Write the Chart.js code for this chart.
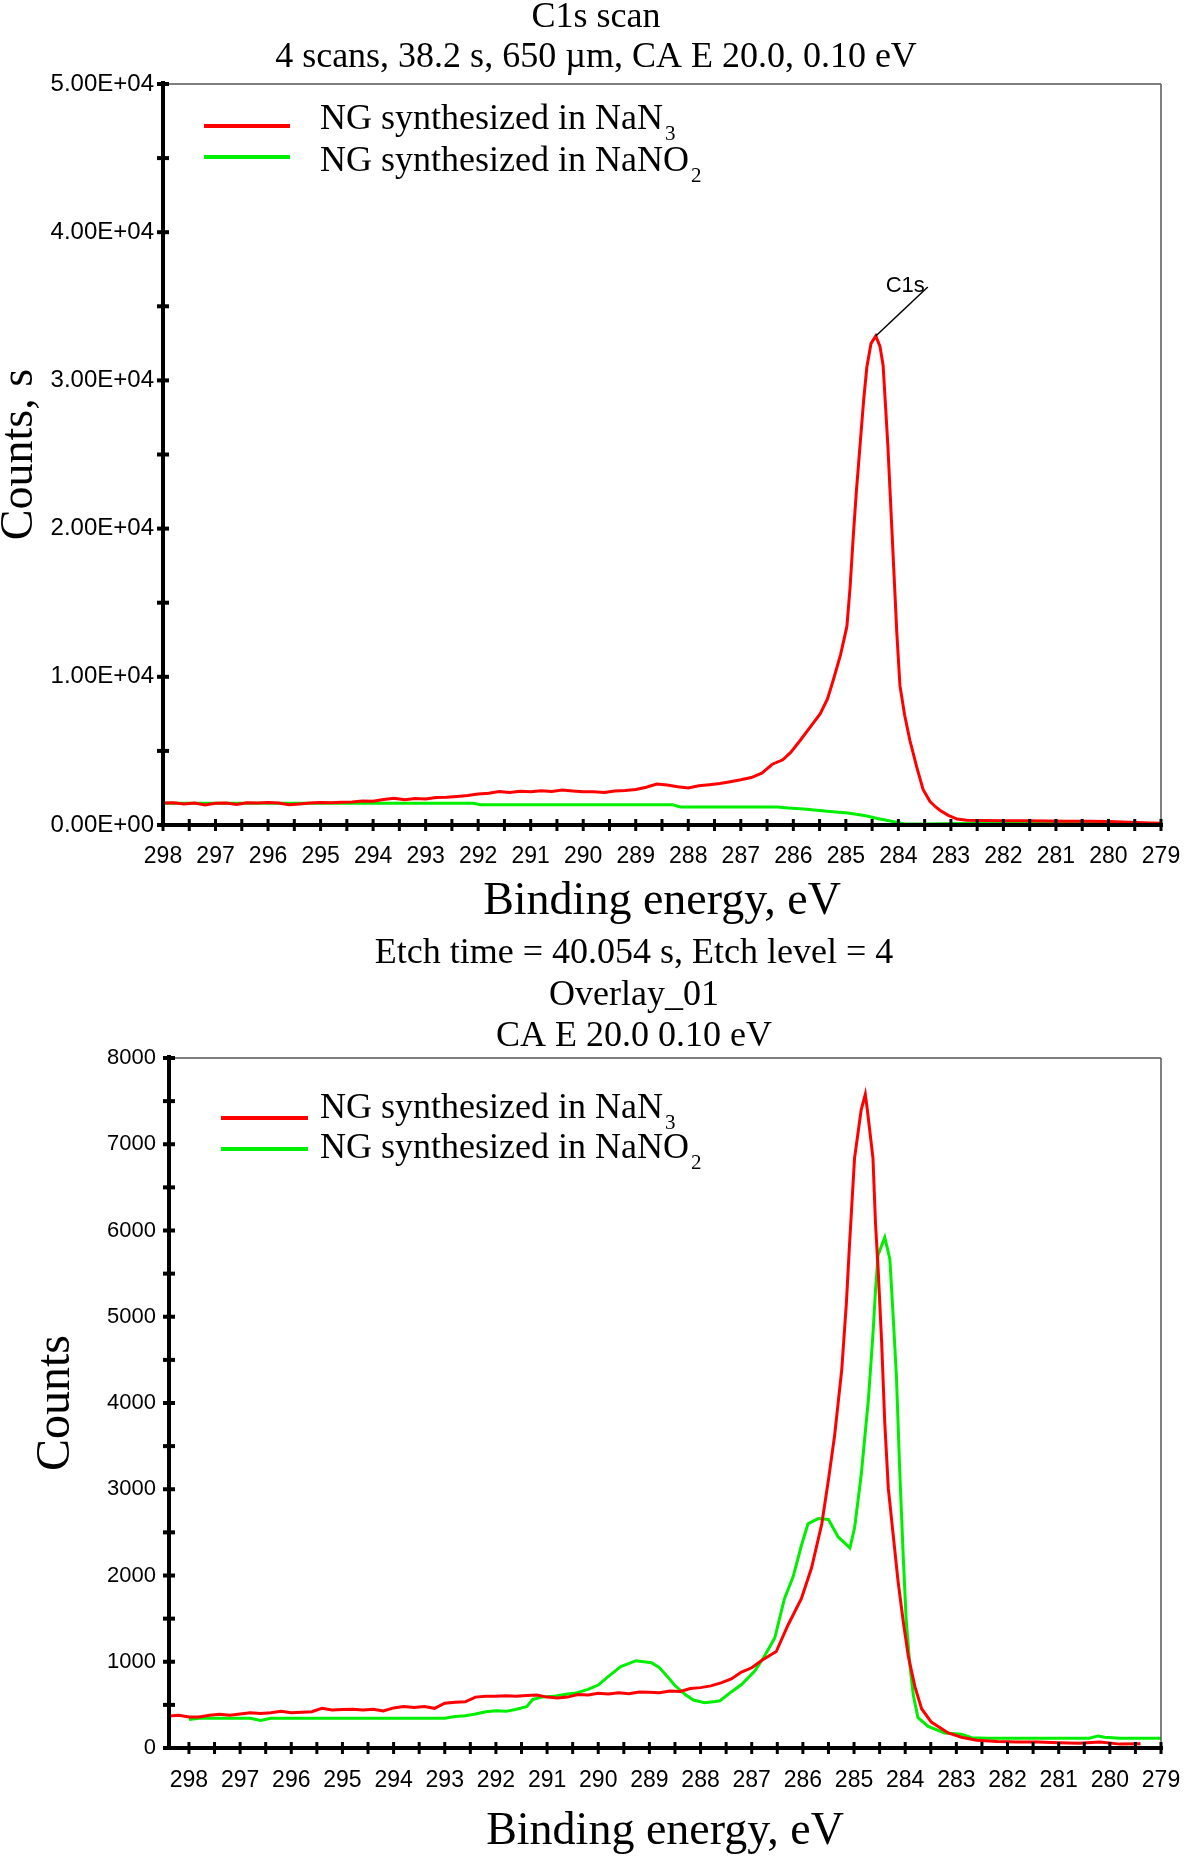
<!DOCTYPE html>
<html>
<head>
<meta charset="utf-8">
<script src="https://cdn.jsdelivr.net/npm/chart.js@4.4.0/dist/chart.umd.min.js"></script>
<style>
  body { margin: 0; background: #fff; width: 1203px; height: 1857px; overflow: hidden; position: relative; }
  canvas { position: absolute; left: 0; }
  #c1Canvas { top: 0; }
  #c2Canvas { top: 925px; }
</style>
</head>
<body>
<canvas id="c1Canvas" width="1203" height="925"></canvas>
<canvas id="c2Canvas" width="1203" height="932"></canvas>
<script>
// ---- series names (legend, with chemical subscript) ----
const seriesNames = ["NG synthesized in NaN", "NG synthesized in NaNO"];
const seriesSubs = ["3", "2"];

// ---- top panel: C1s scan ----
const topTitle = ["C1s scan", "4 scans, 38.2 s, 650 \u00b5m, CA E 20.0, 0.10 eV"];
const topEnergyNaN3 = [
  298.0, 297.8, 297.6, 297.4, 297.2, 297.0, 296.8, 296.6, 296.4, 296.2,
  296.0, 295.8, 295.6, 295.4, 295.2, 295.0, 294.8, 294.6, 294.4, 294.2,
  294.0, 293.8, 293.6, 293.4, 293.2, 293.0, 292.8, 292.6, 292.4, 292.2,
  292.0, 291.8, 291.6, 291.4, 291.2, 291.0, 290.8, 290.6, 290.4, 290.2,
  290.0, 289.8, 289.6, 289.4, 289.2, 289.0, 288.8, 288.6, 288.4, 288.2,
  288.0, 287.8, 287.6, 287.4, 287.2, 287.0, 286.8, 286.6, 286.4, 286.2,
  286.05, 285.87, 285.7, 285.49, 285.35, 285.25, 285.1, 284.98, 284.92, 284.86,
  284.8, 284.73, 284.66, 284.6, 284.52, 284.43, 284.35, 284.29, 284.2, 284.1,
  284.03, 283.97, 283.88, 283.78, 283.65, 283.53, 283.4, 283.3, 283.21, 283.05,
  282.88, 282.7, 282.4, 282.0, 281.6, 281.2, 280.8, 280.4, 280.0, 279.6,
  279.2, 279.0,
];
const topCountsNaN3 = [
  1480, 1500, 1420, 1480, 1350, 1470, 1490, 1380, 1500, 1480,
  1510, 1480, 1360, 1420, 1490, 1520, 1500, 1540, 1560, 1620,
  1600, 1720, 1800, 1700, 1780, 1750, 1850, 1880, 1930, 1990,
  2090, 2150, 2260, 2200, 2280, 2250, 2310, 2260, 2360, 2300,
  2250, 2240, 2200, 2300, 2330, 2400, 2550, 2760, 2700, 2580,
  2500, 2650, 2720, 2800, 2920, 3050, 3200, 3500, 4100, 4400,
  4900, 5700, 6500, 7500, 8500, 9650, 11500, 13400, 16000, 19400,
  22500, 25600, 28700, 30900, 32500, 33000, 32300, 31000, 25600, 18200,
  13000, 9400, 7400, 5700, 3900, 2400, 1600, 1250, 1000, 650,
  400, 320, 300, 290, 280, 270, 260, 250, 230, 190,
  140, 110,
];
const topEnergyNaNO2 = [
  298.0, 292.1, 291.95, 288.3, 288.15, 286.3, 286.1, 285.8, 285.5, 285.2,
  285.0, 284.8, 284.6, 284.4, 284.2, 284.0, 283.85, 283.5, 283.2, 282.8,
  279.0,
];
const topCountsNaNO2 = [
  1460, 1460, 1360, 1360, 1220, 1220, 1150, 1080, 980, 880,
  820, 720, 610, 440, 300, 160, 60, 60, 90, 100,
  100,
];
const topYMax = 50000;
const topYStep = 5000;

// ---- bottom panel: Overlay_01 ----
const bottomTitle = ["Etch time = 40.054 s, Etch level = 4", "Overlay_01", "CA E 20.0 0.10 eV"];
const bottomEnergyNaN3 = [
  298.39, 298.2, 298.0, 297.8, 297.6, 297.4, 297.2, 297.0, 296.8, 296.6,
  296.4, 296.2, 296.0, 295.8, 295.6, 295.4, 295.2, 295.0, 294.8, 294.6,
  294.4, 294.2, 294.0, 293.8, 293.6, 293.4, 293.2, 293.0, 292.8, 292.6,
  292.4, 292.2, 292.0, 291.8, 291.6, 291.4, 291.2, 291.0, 290.8, 290.6,
  290.4, 290.2, 290.0, 289.8, 289.6, 289.4, 289.2, 289.0, 288.8, 288.6,
  288.4, 288.2, 288.0, 287.8, 287.6, 287.4, 287.2, 287.0, 286.8, 286.52,
  286.29, 286.03, 285.83, 285.63, 285.5, 285.38, 285.24, 285.15, 285.09, 284.99,
  284.86, 284.78, 284.74, 284.63, 284.58, 284.53, 284.46, 284.4, 284.33, 284.24,
  284.14, 284.04, 283.94, 283.81, 283.68, 283.49, 283.16, 282.9, 282.6, 282.2,
  281.8, 281.4, 281.0, 280.6, 280.2, 279.8, 279.4,
];
const bottomCountsNaN3 = [
  370, 380, 360, 360, 380, 390, 380, 395, 410, 400,
  410, 425, 410, 415, 420, 460, 440, 445, 450, 440,
  450, 430, 465, 480, 470, 480, 460, 520, 530, 535,
  590, 600, 600, 605, 600, 610, 615, 590, 580, 590,
  620, 615, 635, 625, 640, 630, 650, 645, 640, 660,
  655, 690, 700, 720, 755, 800, 880, 930, 1017, 1119,
  1426, 1732, 2089, 2600, 3110, 3622, 4387, 5154, 5820, 6840,
  7400, 7580, 7400, 6840, 6075, 5565, 4700, 3780, 3010, 2500,
  1935, 1476, 1066, 711, 455, 300, 175, 125, 90, 75,
  70, 70, 60, 55, 70, 45, 50,
];
const bottomEnergyNaNO2 = [
  298.0, 297.8, 297.2, 296.8, 296.6, 296.4, 295.0, 294.0, 293.0, 292.8,
  292.6, 292.4, 292.2, 292.0, 291.8, 291.6, 291.4, 291.28, 291.1, 290.83,
  290.6, 290.46, 290.2, 290.0, 289.8, 289.56, 289.26, 288.96, 288.81, 288.65,
  288.51, 288.3, 288.14, 287.92, 287.75, 287.62, 287.4, 287.2, 286.94, 286.75,
  286.55, 286.36, 286.19, 286.03, 285.9, 285.7, 285.5, 285.31, 285.08, 284.99,
  284.86, 284.72, 284.63, 284.58, 284.53, 284.4, 284.3, 284.24, 284.17, 284.11,
  284.04, 283.98, 283.91, 283.84, 283.75, 283.55, 283.23, 282.9, 282.7, 282.4,
  280.4, 280.23, 280.1, 279.8, 279.0,
];
const bottomCountsNaNO2 = [
  330, 345, 345, 345, 320, 345, 345, 345, 345, 365,
  375, 394, 420, 433, 425, 450, 478, 563, 590, 603,
  625, 634, 680, 730, 830, 943, 1012, 989, 935, 830,
  730, 620, 556, 525, 535, 548, 650, 736, 891, 1067,
  1275, 1732, 1987, 2345, 2600, 2660, 2650, 2447, 2320, 2550,
  3165, 4035, 4800, 5310, 5716, 5920, 5670, 5055, 4290, 3264,
  2242, 1476, 966, 608, 352, 250, 174, 160, 120, 113,
  113, 140, 125, 113, 113,
];
const bottomYMax = 8000;
const bottomYStep = 500;

const RED = "#ff0000";
const GREEN = "#00ee00";
const SERIF = "'Liberation Serif', 'Times New Roman', serif";
const SANS = "'Liberation Sans', Arial, sans-serif";

Chart.defaults.font.family = SANS;
Chart.defaults.color = "#000";

function toPoints(xs, ys) {
  return xs.map((x, i) => ({ x: x, y: ys[i] }));
}

function sciLabel(v) {
  // 50000 -> "5.00E+04"
  const [m, e] = v.toExponential(2).split("e");
  const n = Math.abs(parseInt(e, 10));
  return `${m}E${e[0] === "-" ? "-" : "+"}${n < 10 ? "0" + n : n}`;
}

const isWhole = (v) => Math.abs(v - Math.round(v)) < 1e-6;

// titles above each panel, drawn as text on the canvas
const headingPlugin = {
  id: "headings",
  afterDraw(chart, args, opts) {
    const ctx = chart.ctx;
    ctx.save();
    ctx.font = `${opts.size}px ${SERIF}`;
    ctx.fillStyle = "#000";
    ctx.textAlign = "center";
    ctx.textBaseline = "middle";
    opts.lines.forEach((line, i) => ctx.fillText(line, opts.x, opts.y[i]));
    ctx.restore();
  },
};

// legend with subscripts (NaN3, NaNO2)
const subLegendPlugin = {
  id: "subLegend",
  afterDraw(chart, args, opts) {
    const ctx = chart.ctx;
    ctx.save();
    chart.data.datasets.forEach((ds, i) => {
      ctx.strokeStyle = ds.borderColor;
      ctx.lineWidth = 4;
      ctx.beginPath();
      ctx.moveTo(opts.x0, opts.lineY[i]);
      ctx.lineTo(opts.x1, opts.lineY[i]);
      ctx.stroke();

      ctx.fillStyle = "#000";
      ctx.textAlign = "left";
      ctx.textBaseline = "alphabetic";
      ctx.font = `36px ${SERIF}`;
      ctx.fillText(ds.label, opts.textX, opts.textY[i]);
      const w = ctx.measureText(ds.label).width;
      ctx.font = `21px ${SERIF}`;
      ctx.fillText(ds.sub, opts.textX + w + 2, opts.textY[i] + 11);
    });
    ctx.restore();
  },
};

// axes: thick black left/bottom with cross ticks, thin grey top/right
const framePlugin = {
  id: "frame",
  afterDraw(chart) {
    const { ctx, chartArea: a, scales } = chart;
    const line = (x1, y1, x2, y2) => {
      ctx.beginPath();
      ctx.moveTo(x1, y1);
      ctx.lineTo(x2, y2);
      ctx.stroke();
    };
    ctx.save();
    ctx.strokeStyle = "#555";
    ctx.lineWidth = 1.5;
    line(a.left, a.top, a.right, a.top);
    line(a.right, a.top, a.right, a.bottom);

    ctx.strokeStyle = "#000";
    ctx.lineWidth = 4;
    line(a.left, a.top - 3, a.left, a.bottom + 2);
    line(a.left - 2, a.bottom, a.right + 2, a.bottom);

    ctx.lineWidth = 3;
    scales.x.ticks.forEach((t) => {
      const px = scales.x.getPixelForValue(t.value);
      line(px, a.bottom - 6, px, a.bottom + 6);
    });
    ctx.lineWidth = 4;
    scales.y.ticks.forEach((t) => {
      const py = scales.y.getPixelForValue(t.value);
      line(a.left - 6, py, a.left + 6, py);
    });
    ctx.restore();
  },
};

// "C1s" peak marker on the top panel
const peakLabelPlugin = {
  id: "peakLabel",
  afterDatasetsDraw(chart, args, opts) {
    if (!opts.text) return;
    const ds = chart.data.datasets[0].data;
    let best = 0;
    ds.forEach((p, i) => { if (p.y > ds[best].y) best = i; });
    const px = chart.scales.x.getPixelForValue(ds[best].x);
    const py = chart.scales.y.getPixelForValue(ds[best].y);
    const ctx = chart.ctx;
    ctx.save();
    ctx.strokeStyle = "#000";
    ctx.lineWidth = 1.5;
    ctx.beginPath();
    ctx.moveTo(px, py);
    ctx.lineTo(px + 52, py - 49);
    ctx.stroke();
    ctx.font = `22px ${SANS}`;
    ctx.fillStyle = "#000";
    ctx.textAlign = "right";
    ctx.textBaseline = "middle";
    ctx.fillText(opts.text, px + 49, py - 50);
    ctx.restore();
  },
};

function makeDatasets(eR, cR, eG, cG) {
  return [
    {
      label: seriesNames[0], sub: seriesSubs[0],
      data: toPoints(eR, cR),
      borderColor: RED, borderWidth: 3, pointRadius: 0, tension: 0, fill: false,
    },
    {
      label: seriesNames[1], sub: seriesSubs[1],
      data: toPoints(eG, cG),
      borderColor: GREEN, borderWidth: 3, pointRadius: 0, tension: 0, fill: false,
    },
  ];
}

function makeChart(canvasId, cfg) {
  return new Chart(document.getElementById(canvasId), {
    type: "line",
    data: { datasets: cfg.datasets },
    options: {
      responsive: false,
      animation: false,
      events: [],
      layout: { padding: { top: cfg.areaTop, right: 42, left: 0, bottom: 0 } },
      scales: {
        x: {
          type: "linear",
          reverse: true,
          bounds: "data",
          min: 279,
          max: cfg.xMax,
          grid: { display: false, drawTicks: false },
          border: { display: false },
          ticks: {
            stepSize: 0.5,
            includeBounds: false,
            autoSkip: false,
            maxRotation: 0,
            padding: cfg.xTickPad,
            font: { size: 23, family: SANS },
            callback: (v) => (isWhole(v) ? String(Math.round(v)) : ""),
          },
          title: {
            display: true,
            text: "Binding energy, eV",
            font: { size: 46, family: SERIF, lineHeight: 1 },
            padding: { top: 0, bottom: cfg.xTitlePad },
          },
          afterFit: (s) => { s.height = cfg.xAxisHeight; },
        },
        y: {
          type: "linear",
          bounds: "data",
          min: 0,
          max: cfg.yMax,
          grid: { display: false, drawTicks: false },
          border: { display: false },
          ticks: {
            stepSize: cfg.yStep,
            autoSkip: false,
            padding: cfg.yTickPad,
            font: { size: cfg.yTickSize, family: SANS },
            callback: cfg.yLabel,
          },
          title: {
            display: true,
            text: cfg.yTitle,
            font: { size: cfg.yTitleSize, family: SERIF, lineHeight: 1 },
            padding: { top: cfg.yTitlePad, bottom: 0 },
          },
          afterFit: (s) => { s.width = cfg.yAxisWidth; },
        },
      },
      plugins: {
        legend: { display: false },
        tooltip: { enabled: false },
        headings: cfg.headings,
        subLegend: cfg.legend,
        peakLabel: { text: cfg.peakText },
      },
    },
    plugins: [framePlugin, headingPlugin, subLegendPlugin, peakLabelPlugin],
  });
}

makeChart("c1Canvas", {
  datasets: makeDatasets(topEnergyNaN3, topCountsNaN3, topEnergyNaNO2, topCountsNaNO2),
  areaTop: 84,
  xMax: 298,
  xAxisHeight: 100,
  xTickPad: 18,
  xTitlePad: 0,
  yMax: topYMax,
  yStep: topYStep,
  yTickPad: 9,
  yTickSize: 24,
  yLabel: (v) => (v % 10000 === 0 ? sciLabel(v) : ""),
  yTitle: "Counts, s",
  yTitleSize: 46,
  yTitlePad: -3,
  yAxisWidth: 163,
  headings: { lines: topTitle, x: 596, y: [18, 58], size: 36 },
  legend: { x0: 204, x1: 290, textX: 320, lineY: [126, 157], textY: [129, 171] },
  peakText: "C1s",
});

makeChart("c2Canvas", {
  datasets: makeDatasets(bottomEnergyNaN3, bottomCountsNaN3, bottomEnergyNaNO2, bottomCountsNaNO2),
  areaTop: 133,
  xMax: 298.39,
  xAxisHeight: 109,
  xTickPad: 19,
  xTitlePad: 2,
  yMax: bottomYMax,
  yStep: bottomYStep,
  yTickPad: 13,
  yTickSize: 22,
  yLabel: (v) => (v % 1000 === 0 ? String(v) : ""),
  yTitle: "Counts",
  yTitleSize: 48,
  yTitlePad: 32,
  yAxisWidth: 169,
  headings: { lines: bottomTitle, x: 634, y: [29, 71, 112], size: 36 },
  legend: { x0: 221, x1: 308, textX: 320, lineY: [193, 224], textY: [193, 233] },
  peakText: "",
});
</script>
</body>
</html>
